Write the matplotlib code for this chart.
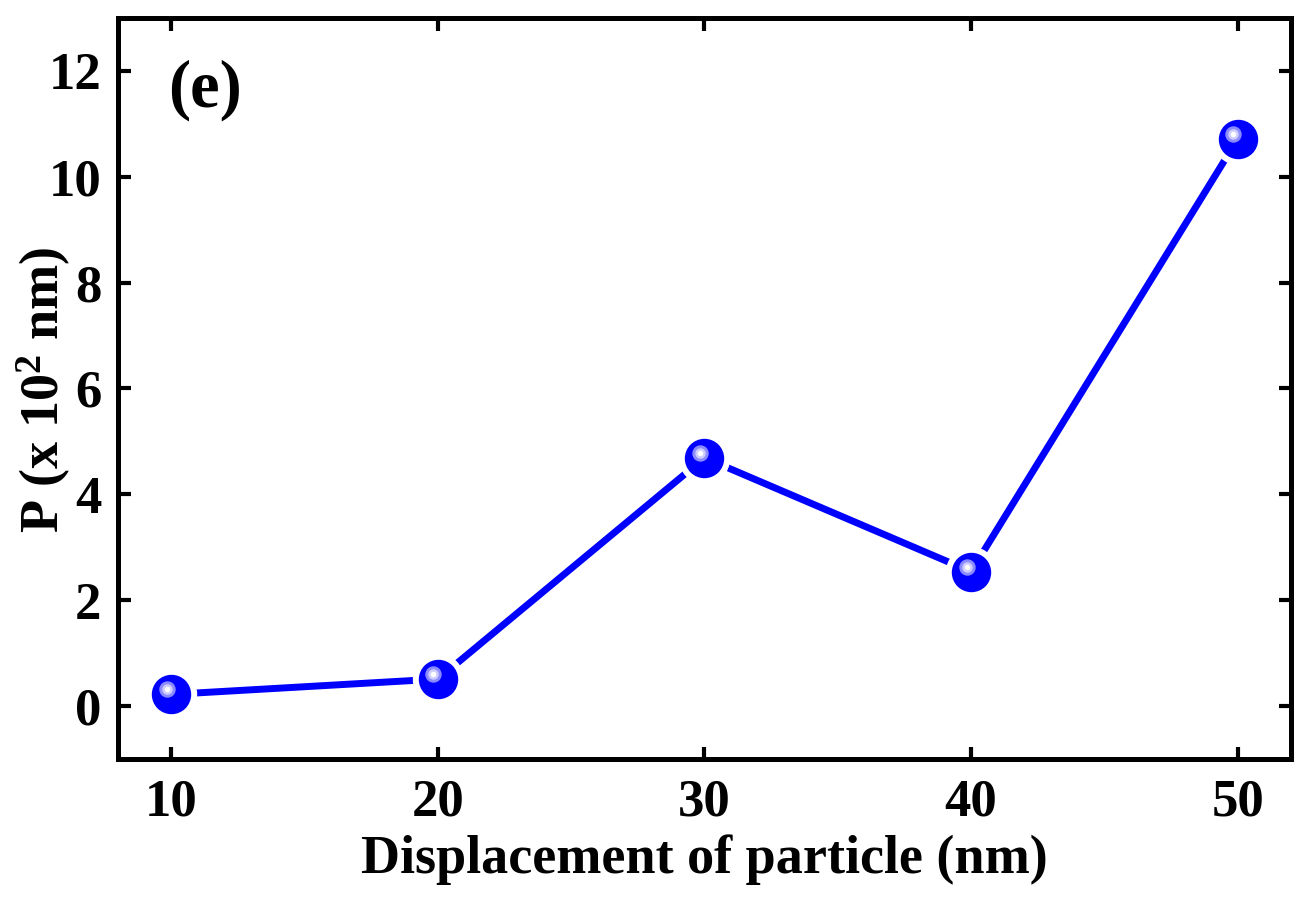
import matplotlib
matplotlib.use('Agg')
import matplotlib.pyplot as plt
from matplotlib.transforms import offset_copy

# data
displacement = [10, 20, 30, 40, 50]
p_values = [0.22, 0.51, 4.69, 2.54, 10.71]
x_ticks = [10, 20, 30, 40, 50]
y_ticks = [0, 2, 4, 6, 8, 10, 12]

plt.rcParams['font.family'] = 'Liberation Serif'
plt.rcParams['font.weight'] = 'bold'
plt.rcParams['mathtext.default'] = 'regular'

PX = 72 / 100  # points per pixel

fig = plt.figure(figsize=(13.13, 9), dpi=100)
ax = fig.add_axes([0.0899, 0.1567, 0.8933, 0.8233])

# line, with white halo under the markers so it stops short (origin style)
ax.plot(displacement, p_values, color='#0000ff', lw=5, solid_capstyle='butt', zorder=2)
ax.scatter(displacement, p_values, s=(50 * PX) ** 2, color='white', zorder=3)

# shaded spheres
ax.scatter(displacement, p_values, s=(38 * PX) ** 2, color='#0000ff', zorder=4)
hl = offset_copy(ax.transData, fig=fig, x=-4.5, y=5, units='dots')
ax.scatter(displacement, p_values, s=(15 * PX) ** 2, color='#8c8cff', transform=hl, zorder=5)
ax.scatter(displacement, p_values, s=(9 * PX) ** 2, color='#ceceff', transform=hl, zorder=6)
ax.scatter(displacement, p_values, s=(4 * PX) ** 2, color='white', transform=hl, zorder=7)

ax.set_xlim(8, 52)
ax.set_ylim(-1, 13)
ax.set_xticks(x_ticks)
ax.set_yticks(y_ticks)
ax.tick_params(direction='in', length=9, width=3, labelsize=38, top=True, right=True)
ax.tick_params(axis='x', pad=14)
ax.tick_params(axis='y', pad=12)
for lab in ax.get_xticklabels() + ax.get_yticklabels():
    lab.set_fontweight('bold')
for sp in ax.spines.values():
    sp.set_linewidth(3.6)

ax.set_xlabel('Displacement of particle (nm)', fontsize=39, fontweight='bold', labelpad=6)
ax.text(-0.063, 0.498, r'P (x 10$^{2}$ nm)', transform=ax.transAxes, rotation=90,
        fontsize=39, fontweight='bold', ha='center', va='center')
ax.text(0.043, 0.903, '(e)', transform=ax.transAxes, fontsize=48, fontweight='bold',
        va='center', ha='left')

fig.savefig('out.png', dpi=100)
